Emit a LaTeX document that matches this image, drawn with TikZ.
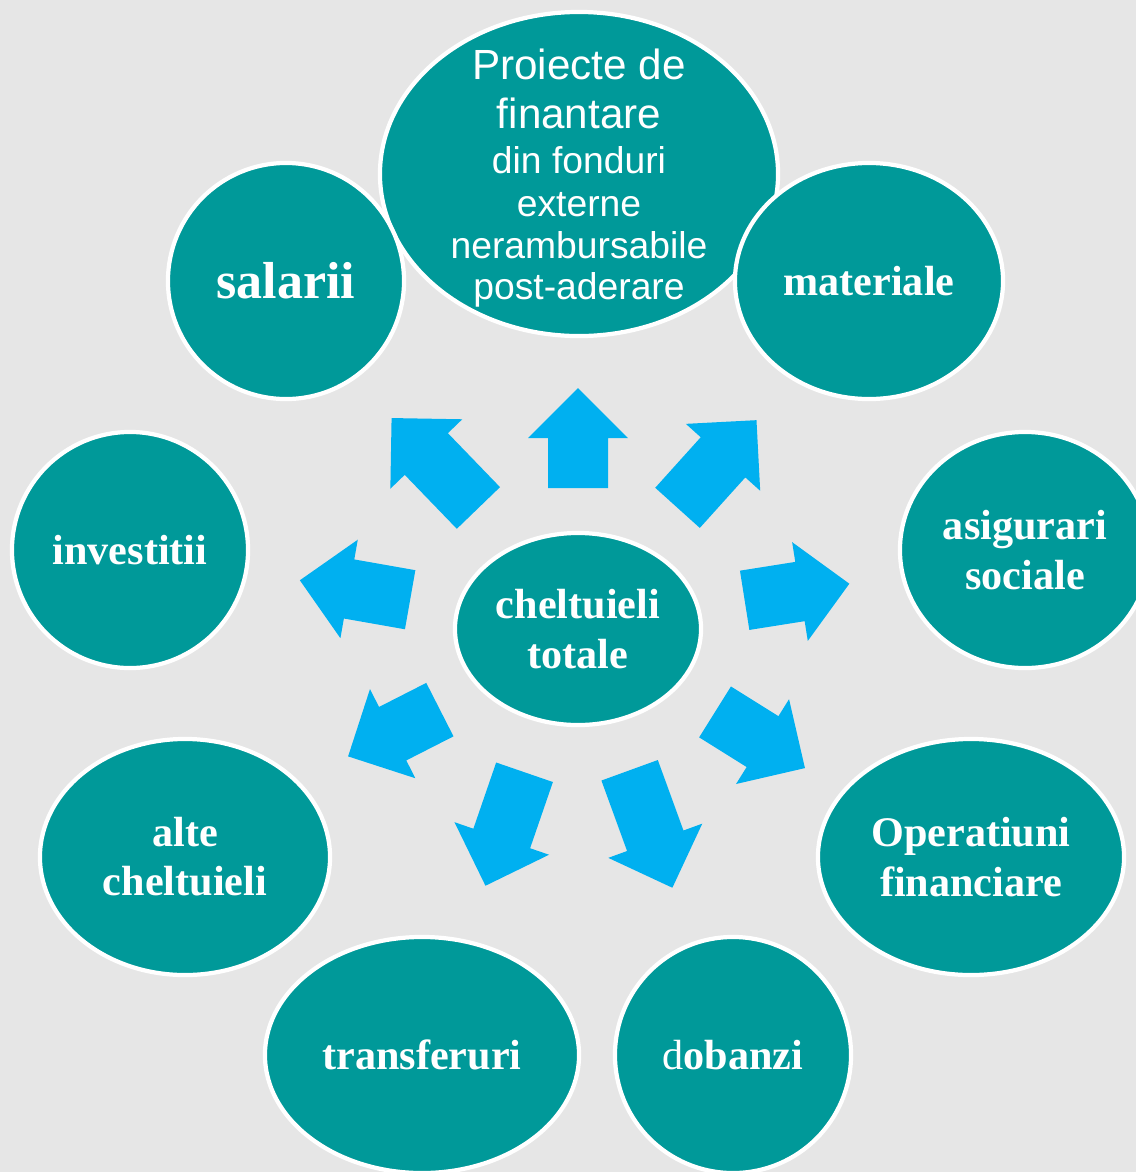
\documentclass[tikz,border=0pt]{standalone}
\usepackage{fontspec}
\setmainfont{Liberation Serif}
\newfontfamily\arialfont{Liberation Sans}
\usepackage{xcolor}
\usetikzlibrary{shapes.geometric}
\definecolor{tealfill}{HTML}{009999}
\definecolor{arrowblue}{HTML}{00B0F0}
\definecolor{paper}{HTML}{E6E6E6}

\begin{document}
\begin{tikzpicture}[x=0.025cm, y=-0.025cm]
        % Définition des styles
        \tikzset{
            bubble/.style 2 args={ellipse, draw=white, line width=3pt, fill=tealfill,
                         text=white, align=center, inner sep=0pt,
                         minimum width=#1*0.05cm, minimum height=#2*0.05cm},
            bold/.style={font=\fontsize{30}{35}\selectfont\bfseries},
            blockarrow/.style={fill=arrowblue, draw=none}
        }

        % Fond
        \useasboundingbox (0,0) rectangle (1136,1172);
        \clip (0,0) rectangle (1136,1172);
        \fill[paper] (0,0) rectangle (1136,1172);

        % Ellipse du haut
        \node[bubble={199}{162}] (proiecte) at (579,174) {};
        \node[text=white, align=center, inner sep=0pt,
              font=\arialfont\fontsize{26.5}{30}\selectfont] (proiectetext) at (579,178)
            {{\fontsize{30}{35}\selectfont Proiecte de}\\[5pt]
             {\fontsize{30}{35}\selectfont finantare}\\[2pt]
             din fonduri\\
             externe\\
             nerambursabile\\[-1pt]
             post-aderare};

        % Ellipses autour
        \node[bubble={118}{118}, font=\fontsize{37}{42}\selectfont\bfseries] (salarii) at (286,281) {salarii};
        \node[bubble={134}{118}, bold] (materiale) at (869,281) {materiale};
        \node[bubble={125}{118}, bold] (asigurari) at (1025,550) {asigurari\\sociale};
        \node[bubble={118}{118}, bold] (investitii) at (130,550) {investitii};
        \node[bubble={153}{118}, bold] (operatiuni) at (971,857) {Operatiuni\\financiare};
        \node[bubble={145}{118}, bold] (alte) at (185,857) {alte\\cheltuieli};
        \node[bubble={157}{118}, bold] (transferuri) at (422,1055) {transferuri};
        \node[bubble={118}{118}, bold] (dobanzi) at (733,1055) {{\mdseries d}obanzi};

        % Centre
        \node[bubble={123}{96}, bold] (total) at (578,629) {cheltuieli\\totale};

        % Flèches
        \foreach \cx/\cy/\ang/\len in {578/438/90/100, 717/464/48/118, 797/592/9/106,
                                       760/740/-32/106, 651/829/-70/125, 505/829/-109/120,
                                       394/733/-153/103, 355/590/170/112, 435/463/134/125}{
            \begin{scope}[shift={(\cx,\cy)}, rotate=\ang]
                \fill[blockarrow] (-\len/2,-30) -- (\len/2-50,-30) -- (\len/2-50,-50)
                    -- (\len/2,0) -- (\len/2-50,50) -- (\len/2-50,30) -- (-\len/2,30) -- cycle;
            \end{scope}
        }
\end{tikzpicture}
\end{document}
